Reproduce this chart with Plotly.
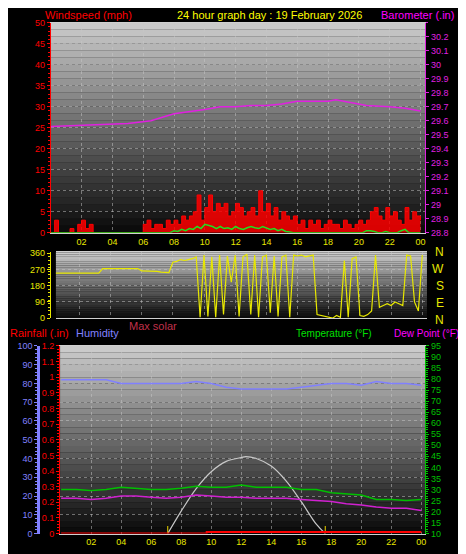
import plotly.graph_objects as go

# Data (15-minute samples for wind, hourly for the others)
q_hours = [i / 4 for i in range(97)]
gust = [0, 3, 0, 0, 0, 1, 0, 2, 3, 1, 2, 0, 0, 0, 0, 0,
        0, 0, 0, 0, 0, 0, 0, 0, 2, 3, 1, 2, 2, 1, 3, 2,
        3, 2, 4, 3, 4, 5, 9, 3, 6, 9, 5, 7, 6, 7, 4, 5,
        7, 6, 4, 5, 6, 4, 10, 5, 7, 4, 6, 3, 5, 4, 3, 4,
        2, 3, 1, 3, 2, 3, 1, 2, 3, 2, 2, 1, 3, 2, 1, 2,
        3, 2, 3, 5, 6, 4, 3, 6, 4, 5, 3, 2, 6, 3, 5, 4, 3]
wind_avg = [0] * 32 + [0.5, 0.3, 0.8, 0.5, 1, 0.8, 1.5, 1, 2, 1.8, 1.5, 1,
            1.5, 1, 1.2, 0.8, 1.5, 1, 0.8, 1.2, 1.5, 1.2, 1, 1.5, 1.2, 0.8, 1, 0.5,
            0.8, 0.3, 0.2, 0] + [0] * 16 + [0, 0, 0.5, 0.5, 0.3, 0, 0, 0.3,
            0, 0, 0, 0.5, 0.8, 0, 0, 0, 0]
baro_hours = [0, 2, 4, 5, 6.5, 8, 10, 11, 12, 13, 14, 15, 16, 18, 18.5, 19.5, 20.5, 22, 23, 24]
baro = [29.56, 29.57, 29.58, 29.58, 29.6, 29.65, 29.68, 29.7, 29.7, 29.71, 29.71,
        29.72, 29.74, 29.74, 29.75, 29.73, 29.71, 29.7, 29.69, 29.67]
wind_dir = [245, 250, 250, 250, 250, 250, 250, 250, 250, 250, 250, 250, 250, 250, 275, 275,
            275, 275, 275, 275, 275, 275, 275, 275, 262, 262, 262, 262, 260, 255, 253, 253,
            310, 315, 325, 320, 325, 330, 340, 5, 350, 10, 340, 5, 350, 20, 345, 200,
            350, 10, 340, 355, 20, 350, 5, 340, 350, 30, 345, 10, 340, 350, 5, 350,
            345, 350, 340, 345, 350, 20, 15, 10, 5, 0, 15, 5, 320, 5, 330, 340,
            15, 10, 20, 40, 350, 60, 70, 80, 70, 90, 80, 70, 350, 345, 90, 40, 350]
hours = list(range(25))
humidity = [82, 82, 82, 82, 80, 80, 80, 80, 80, 81, 80, 78, 77, 77, 77, 77, 78, 79, 80, 80, 79, 81, 80, 80, 79]
temperature = [30, 30, 29.5, 30, 31, 30.5, 30, 30, 30.5, 31.5, 31, 31, 32, 31, 31, 31, 30, 30,
               28.5, 28, 27.5, 25.5, 25.5, 25, 25.5]
dew_point = [26, 26, 25.5, 26, 27, 27, 26.5, 26, 26.5, 27.5, 27, 26.5, 26.5, 26, 26, 26, 25.5, 25,
             24.5, 23.5, 23, 22, 21.5, 21.5, 20.5]
rain_hours = [0, 9.7, 9.7, 24]
rain = [0, 0, 0.01, 0.01]
solar_hours = [7.1, 8, 9, 10, 11, 12, 12.3, 13, 14, 15, 16, 17, 17.6]
max_solar = [0, 12, 24, 33, 38.5, 40.5, 41, 40, 36, 28, 17, 5, 0]
sun_times = [7.1, 17.6]

tick_vals = list(range(2, 25, 2))
tick_text = ['%02d' % (h % 24) for h in tick_vals]

FONT = 'Liberation Sans'
fig = go.Figure()


def line(x, y, color, width, xa, ya, **kw):
    fig.add_trace(go.Scatter(x=x, y=y, mode='lines', line=dict(color=color, width=width, shape=kw.pop('shape', 'linear')),
                             xaxis=xa, yaxis=ya, **kw))


line(q_hours, gust, '#ff0000', 1, 'x', 'y', shape='hv', fill='tozeroy', fillcolor='rgba(255,0,0,0.85)')
line(q_hours, wind_avg, '#20e020', 1.5, 'x', 'y')
line(baro_hours, baro, '#e020e0', 1.5, 'x', 'y2')
line(q_hours, wind_dir, '#e8e800', 1.2, 'x2', 'y3')
line(hours, humidity, '#8080ff', 1.5, 'x3', 'y4')
line(solar_hours, max_solar, '#c8c8c8', 1.2, 'x3', 'y4', shape='spline')
for t in sun_times:
    line([t, t], [0, 4], '#c8b400', 1.2, 'x3', 'y4')
line(rain_hours, rain, '#ff0000', 2, 'x3', 'y5')
line(hours, temperature, '#00c000', 1.5, 'x3', 'y6')
line(hours, dew_point, '#d020d0', 1.5, 'x3', 'y6')

# gradient backgrounds
shapes = []
n = 30
for xr, yr in [('x', 'y'), ('x2', 'y3'), ('x3', 'y4')]:
    for k in range(n):
        g = int(12 + k / (n - 1) * 190)
        shapes.append(dict(type='rect', xref=xr + ' domain', yref=yr + ' domain',
                           x0=0, x1=1, y0=k / n, y1=(k + 1) / n, line_width=0,
                           fillcolor='rgb(%d,%d,%d)' % (g, g, g), layer='below'))

grid = dict(showgrid=True, gridcolor='rgba(200,200,200,0.5)', griddash='dot', gridwidth=1)
xcommon = dict(tickvals=tick_vals, ticktext=tick_text, tickfont=dict(color='#e8e800', size=9),
               showline=True, linecolor='#d0d0d0', mirror=True, ticks='', zeroline=False, **grid)


def yax(color, **kw):
    d = dict(tickfont=dict(color=color, size=9), ticks='outside', tickcolor=color, ticklen=3,
             showline=True, linecolor=color, zeroline=False, showgrid=False,
             minor=dict(ticks='outside', tickcolor=color, ticklen=2))
    d.update(kw)
    return d


fig.update_layout(
    width=466, height=554, margin=dict(l=0, r=0, t=0, b=0),
    paper_bgcolor='black', plot_bgcolor='black', showlegend=False, hovermode=False,
    font=dict(family=FONT),
    shapes=shapes,
    xaxis=dict(domain=[0.092, 0.897], range=[0, 24.3], anchor='y', **xcommon),
    xaxis2=dict(domain=[0.103, 0.901], range=[0.5, 24.3], anchor='y3', showticklabels=False,
                **{k: v for k, v in xcommon.items() if k not in ('tickfont',)}),
    xaxis3=dict(domain=[0.112, 0.897], range=[-0.07, 24.25], anchor='y4', **xcommon),
    yaxis=yax('#ff0000', domain=[0.596, 0.982], range=[0, 50], dtick=5, **grid),
    yaxis2=yax('#e020e0', overlaying='y', side='right', anchor='x', range=[28.8, 30.3],
               tickvals=[round(28.8 + 0.1 * i, 1) for i in range(15)]),
    yaxis3=yax('#e8e800', domain=[0.439, 0.560], range=[0, 365], tickvals=[0, 90, 180, 270, 360], **grid),
    yaxis4=yax('#8080ff', domain=[0.043, 0.388], range=[0, 100], dtick=10, anchor='free',
               position=0.065, linewidth=3, **grid),
    yaxis5=yax('#ff0000', overlaying='y4', anchor='x3', side='left', range=[0, 1.2], dtick=0.1,
               tickformat='.1~f'),
    yaxis6=yax('#00c000', overlaying='y4', anchor='x3', side='right', range=[10, 95], dtick=5),
)

ann = [
    (0.075, 0.997, 'Windspeed (mph)', '#ff0000', 'left', 11),
    (0.563, 0.997, '24 hour graph day : 19 February 2026', '#ffff00', 'center', 11),
    (0.797, 0.997, 'Barometer (.in)', '#ff00ff', 'left', 11),
    (0.255, 0.424, 'Max solar', '#c0304a', 'left', 11),
    (0.0, 0.411, 'Rainfall (.in)', '#ff0000', 'left', 11),
    (0.143, 0.411, 'Humidity', '#8080ff', 'left', 11),
    (0.787, 0.411, 'Temperature (°F)', '#00e000', 'right', 10),
    (0.975, 0.411, 'Dew Point (°F)', '#ff00ff', 'right', 10),
]
for x, y, t, c, a, s in ann:
    fig.add_annotation(xref='paper', yref='paper', x=x, y=y, text=t, showarrow=False,
                       xanchor=a, yanchor='middle', font=dict(color=c, size=s, family=FONT))
for i, d in enumerate(['N', 'W', 'S', 'E', 'N']):
    fig.add_annotation(xref='paper', yref='paper', x=0.943, y=(554 - 243 - i * 17.5) / 554, text=d,
                       showarrow=False, font=dict(color='#e8e800', size=12, family=FONT))

fig.write_html('out.html')
